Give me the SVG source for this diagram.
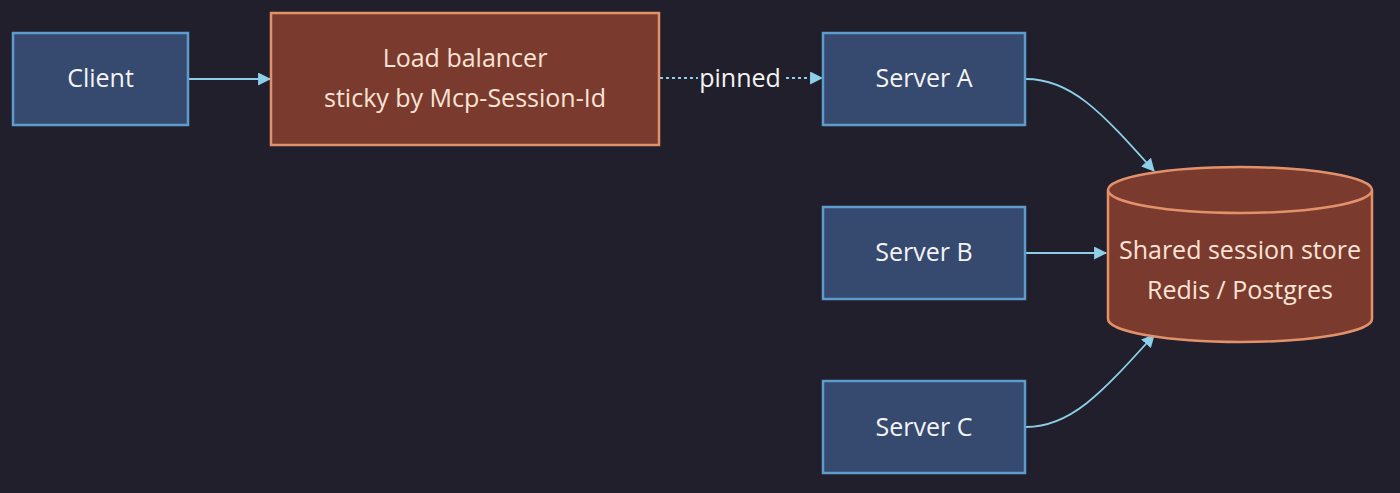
<svg xmlns="http://www.w3.org/2000/svg" width="1400" height="493" viewBox="0 0 1400 493">
<defs>
<style>
.bg{fill:#201f2b}
.blue{fill:#36496f;stroke:#5d9ccd;stroke-width:2.5}
.brown{fill:#7a3b2e;stroke:#e3916a;stroke-width:2.5}
.lbl{font-family:"Open Sans","DejaVu Sans",sans-serif;font-size:25px;fill:#f4f4f4;text-anchor:middle;dominant-baseline:central}
.lblw{font-family:"Open Sans","DejaVu Sans",sans-serif;font-size:25px;fill:#fbe3d6;text-anchor:middle;dominant-baseline:central}
.edge{fill:none;stroke:#8dcfe9;stroke-width:1.8}
.dot{stroke-dasharray:3 3}
</style>
<marker id="arr" viewBox="0 0 12 12" refX="11" refY="6" markerWidth="13" markerHeight="13" markerUnits="userSpaceOnUse" orient="auto">
<path d="M0,0 L12,6 L0,12 Z" fill="#8dcfe9"/>
</marker>
</defs>
<rect class="bg" x="0" y="0" width="1400" height="493"/>
<g id="connectors">
<path class="edge" d="M189,79 L270,79" marker-end="url(#arr)"/>
<path class="edge dot" d="M660,78 L822,78" marker-end="url(#arr)"/>
<rect x="698" y="63" width="85" height="32" fill="#201f2b"/>
<text class="lbl" x="740" y="77">pinned</text>
<path class="edge" d="M1026,79 C1070,79 1100,110 1154,171" marker-end="url(#arr)"/>
<path class="edge" d="M1026,253 L1106,253" marker-end="url(#arr)"/>
<path class="edge" d="M1026,427 C1070,427 1100,395 1154,335" marker-end="url(#arr)"/>
</g>
<g id="client">
<rect class="blue" x="13" y="33" width="175" height="92"/>
<text class="lbl" x="100.5" y="77">Client</text>
</g>
<g id="lb">
<rect class="brown" x="271" y="13" width="388" height="132"/>
<text class="lblw" x="465" y="57">Load balancer</text>
<text class="lblw" x="465" y="97">sticky by Mcp-Session-Id</text>
</g>
<g id="serverA">
<rect class="blue" x="823" y="33" width="202" height="92"/>
<text class="lbl" x="924" y="77">Server A</text>
</g>
<g id="serverB">
<rect class="blue" x="823" y="207" width="202" height="92"/>
<text class="lbl" x="924" y="251">Server B</text>
</g>
<g id="serverC">
<rect class="blue" x="823" y="381" width="202" height="92"/>
<text class="lbl" x="924" y="426">Server C</text>
</g>
<g id="store">
<path class="brown" d="M1108,190 A132,23 0 0 1 1372,190 L1372,319 A132,23 0 0 1 1108,319 Z"/>
<path class="brown" d="M1108,190 A132,23 0 0 0 1372,190" fill="none"/>
<text class="lblw" x="1240" y="249">Shared session store</text>
<text class="lblw" x="1240" y="289">Redis / Postgres</text>
</g>
</svg>
